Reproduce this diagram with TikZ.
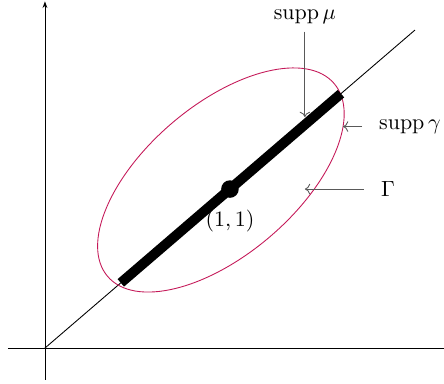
\documentclass[tikz,border=0pt]{standalone}
\usepackage{amsmath,amssymb}
\usetikzlibrary{arrows.meta,positioning}
\definecolor{suppred}{RGB}{196,24,88}

\begin{document}
\begin{tikzpicture}[x=2.96cm,y=2.544cm,
    sidetag/.style={outer xsep=4.5pt},
    pointer/.style={black!65,-{To[length=2.4pt,width=4.8pt]}},
    diag/.style={line width=4.5pt}]
  \useasboundingbox (-0.243,-0.22) rectangle (2.157,2.189);
  % axes and diagonal
  \coordinate (o) at (0,0);
  \coordinate (xl) at (-0.2,0);
  \coordinate (xr) at (2.17,0);
  \coordinate (yb) at (0,-0.2);
  \coordinate (yt) at (0,2.18);
  \coordinate (dtop) at (2,2);
  \draw (xl) -- (xr);
  \draw[-{Stealth[length=3pt,width=2.2pt]}] (yb) -- (yt);
  \draw (o) -- (dtop);
  % the support of gamma and Gamma
  \coordinate (ectr) at (0.951,1.057);
  \draw[suppred,rotate around={40.4:(ectr)}] (ectr) ellipse [x radius=2.38cm,y radius=1.2cm];
  \coordinate (sa) at (0.41,0.41);
  \coordinate (sb) at (1.6,1.6);
  \draw[diag] (sa) -- (sb);
  \node[circle,fill,inner sep=0pt,minimum size=8pt] (pt) at (1,1) {};
  \node[below=2pt of pt] (ptlabel) {$(1,1)$};
  % labels
  \node (suppmu) at (1.405,2.082) {$\operatorname{supp}\mu$};
  \coordinate (mutip) at (1.405,1.453);
  \draw[pointer] (suppmu) -- (mutip);
  \node[sidetag] (suppgamma) at (1.973,1.393) {$\operatorname{supp}\gamma$};
  \coordinate (gammatip) at (1.611,1.393);
  \draw[pointer] (suppgamma) -- (gammatip);
  \node[sidetag] (Gamma) at (1.854,1.0) {$\Gamma$};
  \coordinate (Gtip) at (1.405,1.0);
  \draw[pointer] (Gamma) -- (Gtip);
\end{tikzpicture}
\end{document}
